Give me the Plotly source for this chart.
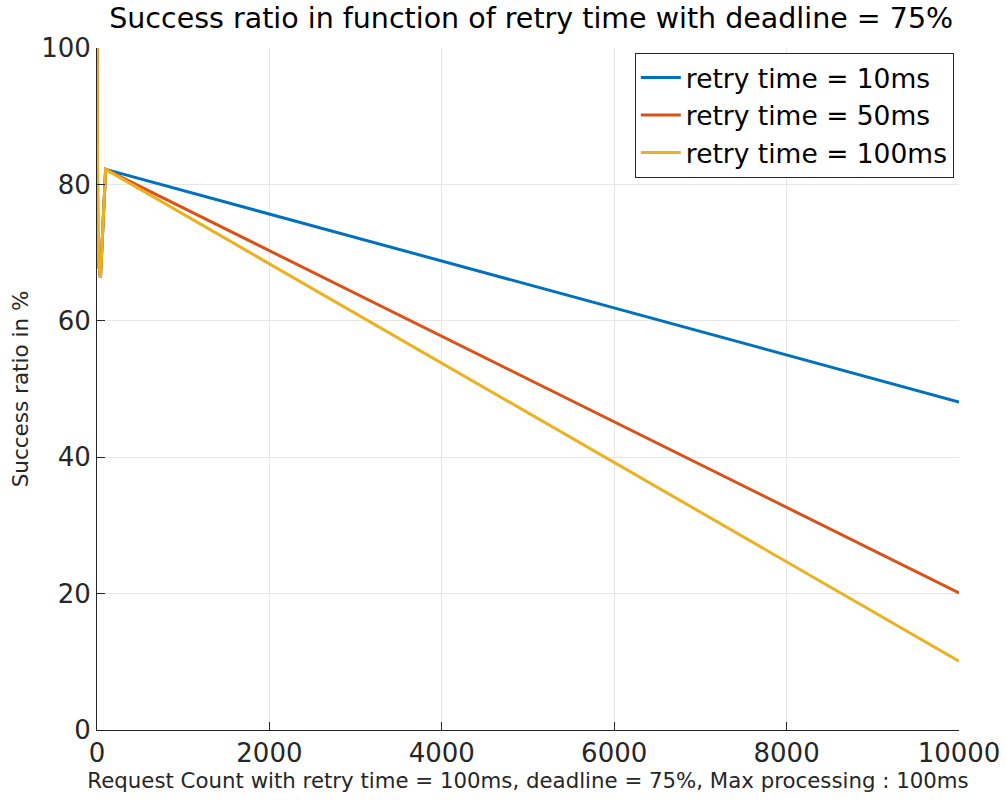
import plotly.graph_objects as go

# Request counts sampled along the x axis
request_count = [1, 10, 40, 100, 10000]

# Success ratio (%) per retry time
ratio_10ms = [100, 69.5, 66.3, 82.2, 48.1]
ratio_50ms = [100, 69.5, 66.3, 82.2, 20.1]
ratio_100ms = [100, 69.5, 66.3, 82.2, 10.1]

series = [
    ("retry time = 10ms", ratio_10ms, "#0072BD"),
    ("retry time = 50ms", ratio_50ms, "#D95319"),
    ("retry time = 100ms", ratio_100ms, "#EDB120"),
]

x_ticks = [0, 2000, 4000, 6000, 8000, 10000]
x_tick_labels = ["0", "2000", "4000", "6000", "8000", "10000"]
y_ticks = [0, 20, 40, 60, 80, 100]

fig = go.Figure()
for name, values, color in series:
    fig.add_trace(go.Scatter(
        x=request_count, y=values, mode="lines", name=name,
        line=dict(color=color, width=3),
    ))

font_family = "DejaVu Sans"
fig.update_layout(
    width=1006, height=802,
    margin=dict(l=97, r=47, t=48, b=72, autoexpand=False),
    paper_bgcolor="white", plot_bgcolor="white",
    font=dict(family=font_family, color="#262626"),
    title=dict(
        text="Success ratio in function of retry time with deadline = 75%",
        x=0.528, xanchor="center", y=0.99, yanchor="top",
        font=dict(size=28.5, color="black"),
    ),
    showlegend=True,
    legend=dict(
        x=0.994, xanchor="right", y=0.993, yanchor="top",
        bgcolor="white", bordercolor="#262626", borderwidth=1,
        font=dict(size=26.5, color="black"),
        tracegroupgap=0, itemwidth=40,
    ),
    xaxis=dict(
        range=[0, 10000], tickvals=x_ticks, ticktext=x_tick_labels,
        showgrid=True, gridcolor="#e6e6e6", gridwidth=1,
        showline=True, linecolor="#262626", linewidth=1,
        ticks="inside", ticklen=8, tickcolor="#262626",
        tickfont=dict(size=26), zeroline=False, automargin=False,
        title=dict(
            text="Request Count with retry time = 100ms, deadline = 75%, Max processing : 100ms",
            font=dict(size=21.3), standoff=2,
        ),
    ),
    yaxis=dict(
        range=[0, 100], tickvals=y_ticks,
        showgrid=True, gridcolor="#e6e6e6", gridwidth=1,
        showline=True, linecolor="#262626", linewidth=1,
        ticks="inside", ticklen=8, tickcolor="#262626",
        tickfont=dict(size=26), zeroline=False, automargin=False,
        title=dict(text="Success ratio in %", font=dict(size=21.5), standoff=6),
    ),
)

fig.write_html("out.html")
